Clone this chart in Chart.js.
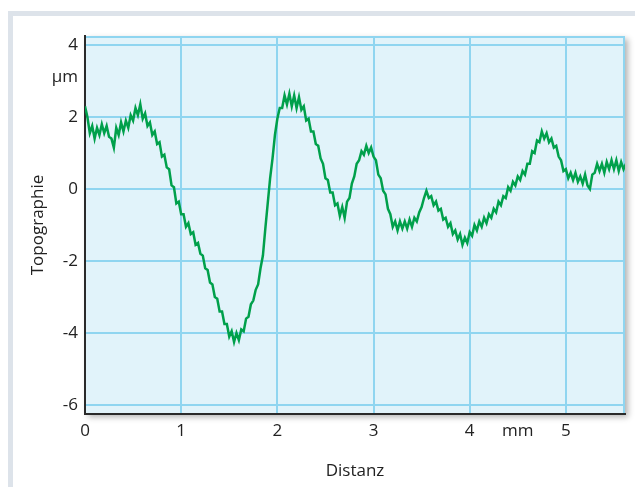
<!DOCTYPE html>
<html>
<head>
<meta charset="utf-8">
<script src="https://cdn.jsdelivr.net/npm/chart.js@4/dist/chart.umd.min.js"></script>
<style>
    html, body { margin: 0; padding: 0; background: #fff; }
    #frame {
        position: absolute; left: 8px; top: 11px; right: 0; bottom: 0;
        border-top: 5px solid #dde3ea; border-left: 5px solid #dde3ea;
    }
    #wrap { position: absolute; left: 0; top: 0; width: 635px; height: 487px; }
</style>
</head>
<body>
<div id="frame"></div>
<div id="wrap"><canvas id="chart" width="635" height="487"></canvas></div>
<script>
const topographie = [
    2.3, 2.0, 1.55, 1.75, 1.4, 1.7, 1.5, 1.8, 1.55, 1.75,
    1.45, 1.4, 1.15, 1.7, 1.5, 1.85, 1.6, 1.9, 1.7, 2.05,
    1.9, 2.25, 2.05, 2.35, 1.95, 2.1, 1.75, 1.85, 1.5, 1.6,
    1.25, 1.3, 0.9, 0.95, 0.6, 0.55, 0.1, 0.05, -0.4, -0.35,
    -0.7, -0.7, -1.05, -0.95, -1.25, -1.2, -1.55, -1.5, -1.8, -1.85,
    -2.2, -2.25, -2.6, -2.65, -3.0, -3.05, -3.4, -3.4, -3.75, -3.75,
    -4.1, -3.95, -4.25, -4.0, -4.2, -3.9, -3.95, -3.6, -3.55, -3.2,
    -3.1, -2.8, -2.65, -2.2, -1.85, -1.1, -0.4, 0.3, 0.85, 1.5,
    1.95, 2.25, 2.25, 2.6, 2.35, 2.65, 2.3, 2.6, 2.25, 2.55,
    2.2, 2.3, 1.9, 1.95, 1.6, 1.6, 1.25, 1.2, 0.85, 0.7,
    0.3, 0.25, -0.1, -0.1, -0.45, -0.4, -0.75, -0.5, -0.8, -0.35,
    -0.25, 0.15, 0.35, 0.7, 0.8, 1.05, 0.95, 1.2, 1.0, 1.15,
    0.9, 0.8, 0.4, 0.3, -0.05, -0.15, -0.55, -0.7, -1.05, -0.9,
    -1.15, -0.9, -1.1, -0.9, -1.1, -0.85, -1.05, -0.8, -0.9, -0.65,
    -0.5, -0.25, -0.05, -0.25, -0.2, -0.45, -0.35, -0.6, -0.55, -0.85,
    -0.8, -1.05, -0.95, -1.25, -1.15, -1.4, -1.25, -1.55, -1.35, -1.5,
    -1.2, -1.3, -1.0, -1.15, -0.9, -1.05, -0.8, -0.95, -0.7, -0.8,
    -0.55, -0.65, -0.35, -0.45, -0.2, -0.25, 0.05, -0.05, 0.2, 0.1,
    0.35, 0.25, 0.5, 0.4, 0.7, 0.7, 1.05, 1.0, 1.35, 1.3,
    1.6, 1.4, 1.55, 1.3, 1.4, 1.15, 1.2, 0.9, 0.8, 0.5,
    0.55, 0.3, 0.45, 0.25, 0.45, 0.2, 0.35, 0.15, 0.4, 0.1,
    0.0, 0.4, 0.45, 0.7, 0.5, 0.7, 0.45, 0.75, 0.55, 0.8,
    0.55, 0.8, 0.5, 0.75, 0.55, 0.7
];
const distanzStep = 0.025; // mm
const distanz = topographie.map((_, i) => i * distanzStep);

const xTicks = [0, 1, 2, 3, 4, 4.5, 5];
const xTickLabels = ["0", "1", "2", "3", "4", "mm", "5"];
const yTicks = [-6, -4, -2, 0, 2, 3.1, 4];
const yTickLabels = ["-6", "-4", "-2", "0", "2", "µm", "4"];

const gridColor = "#8fd5f0";
const plotColor = "#e1f3fa";
const axisColor = "#2a2a2a";
const lineColor = "#00a04b";
const textColor = "#222";
const fontFamily = "'Open Sans', sans-serif";

const plotBackground = {
    id: "plotBackground",
    beforeDraw(chart) {
        const { ctx, chartArea: a } = chart;
        ctx.save();
        ctx.shadowColor = "rgba(0,0,0,0.3)";
        ctx.shadowBlur = 6;
        ctx.shadowOffsetX = 3;
        ctx.shadowOffsetY = 3;
        ctx.fillStyle = plotColor;
        ctx.fillRect(a.left, a.top, a.width, a.height);
        ctx.restore();

        ctx.save();
        ctx.strokeStyle = gridColor;
        ctx.lineWidth = 2;
        ctx.beginPath();
        ctx.moveTo(a.left, a.top + 1);
        ctx.lineTo(a.right - 1, a.top + 1);
        ctx.lineTo(a.right - 1, a.bottom);
        ctx.stroke();
        ctx.restore();
    }
};

function pickTicks(values) {
    return scale => {
        scale.ticks = values.map(v => ({ value: v }));
    };
}

function labelFor(values, labels) {
    return v => {
        const i = values.indexOf(v);
        return i >= 0 ? labels[i] : "";
    };
}

const ctx = document.getElementById("chart").getContext("2d");

new Chart(ctx, {
    type: "line",
    data: {
        datasets: [{
            data: distanz.map((d, i) => ({ x: d, y: topographie[i] })),
            borderColor: lineColor,
            borderWidth: 2.5,
            pointRadius: 0,
            tension: 0,
            fill: false
        }]
    },
    options: {
        responsive: false,
        animation: false,
        layout: { padding: { left: 0, top: 36, right: 10, bottom: 0 } },
        plugins: {
            legend: { display: false },
            tooltip: { enabled: false }
        },
        scales: {
            x: {
                type: "linear",
                min: 0,
                max: 5.615,
                afterBuildTicks: pickTicks(xTicks),
                afterFit: s => { s.height = 73; },
                grid: {
                    color: c => c.tick && c.tick.value === 4.5 ? "rgba(0,0,0,0)" : gridColor,
                    lineWidth: 2,
                    drawTicks: false
                },
                border: { color: axisColor, width: 2 },
                ticks: {
                    autoSkip: false,
                    maxRotation: 0,
                    padding: 7,
                    color: textColor,
                    font: { family: fontFamily, size: 17 },
                    callback: labelFor(xTicks, xTickLabels)
                },
                title: {
                    display: true,
                    text: "Distanz",
                    color: textColor,
                    padding: 6,
                    font: { family: fontFamily, size: 17 }
                }
            },
            y: {
                min: -6.25,
                max: 4.25,
                afterBuildTicks: pickTicks(yTicks),
                afterFit: s => { s.width = 85; },
                grid: {
                    color: c => c.tick && c.tick.value === 3.1 ? "rgba(0,0,0,0)" : gridColor,
                    lineWidth: 2,
                    drawTicks: false
                },
                border: { color: axisColor, width: 2 },
                ticks: {
                    autoSkip: false,
                    padding: 7,
                    color: textColor,
                    font: { family: fontFamily, size: 17 },
                    callback: labelFor(yTicks, yTickLabels)
                },
                title: {
                    display: true,
                    text: "Topographie",
                    color: textColor,
                    padding: 28,
                    font: { family: fontFamily, size: 17 }
                }
            }
        }
    },
    plugins: [plotBackground]
});
</script>
</body>
</html>
